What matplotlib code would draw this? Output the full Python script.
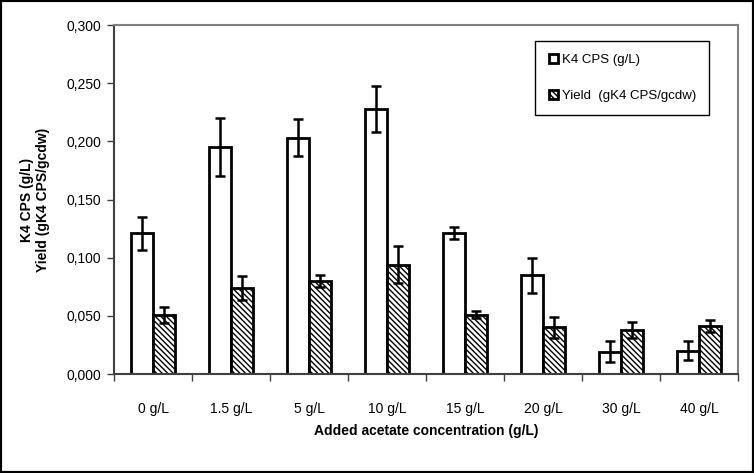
import numpy as np
import matplotlib.pyplot as plt
from matplotlib.patches import Rectangle

plt.rcParams['font.family'] = ['Liberation Sans', 'DejaVu Sans']
plt.rcParams['hatch.linewidth'] = 1.0

# data
categories = ["0 g/L", "1.5 g/L", "5 g/L", "10 g/L", "15 g/L", "20 g/L", "30 g/L", "40 g/L"]
cps = [0.121, 0.195, 0.203, 0.228, 0.121, 0.085, 0.019, 0.020]
cps_err = [0.014, 0.025, 0.016, 0.020, 0.005, 0.015, 0.009, 0.008]
yld = [0.051, 0.074, 0.080, 0.094, 0.051, 0.040, 0.038, 0.041]
yld_err = [0.007, 0.010, 0.005, 0.016, 0.003, 0.009, 0.007, 0.005]

fig = plt.figure(figsize=(7.54, 4.73), dpi=100)
ax = fig.add_axes([0.1512, 0.2093, 0.8276, 0.7378])

x = np.arange(len(categories))
w = 0.28

ax.bar(x - w / 2, cps, w, color="white", edgecolor="black", linewidth=2,
       label="K4 CPS (g/L)", zorder=2)
ax.bar(x + w / 2, yld, w, color="white", edgecolor="black", linewidth=2,
       hatch="\\\\\\\\\\\\", label="Yield  (gK4 CPS/gcdw)", zorder=2)
ax.errorbar(x - w / 2, cps, yerr=cps_err, fmt="none", ecolor="black",
            elinewidth=1.8, capsize=3.5, capthick=1.8, zorder=3)
ax.errorbar(x + w / 2, yld, yerr=yld_err, fmt="none", ecolor="black",
            elinewidth=1.8, capsize=3.5, capthick=1.8, zorder=3)

ax.set_xlim(-0.5, len(categories) - 0.5)
ax.set_ylim(0, 0.3)
ax.set_yticks(np.arange(0, 0.301, 0.05))
ax.set_yticklabels(["{:.3f}".format(v).replace(".", ",") for v in np.arange(0, 0.301, 0.05)])
ax.set_xticks(x)
ax.set_xticklabels(categories)
ax.set_xticks(np.arange(-0.5, len(categories)), minor=True)
ax.tick_params(axis="x", which="major", length=0, pad=20, labelsize=10)
ax.tick_params(axis="x", which="minor", length=5, width=1, color="#404040")
ax.tick_params(axis="y", length=5, width=1, color="#404040", labelsize=10, pad=4)

for s in ["left", "bottom"]:
    ax.spines[s].set_color("#404040")
    ax.spines[s].set_linewidth(1.5)
for s in ["top", "right"]:
    ax.spines[s].set_color("#808080")
    ax.spines[s].set_linewidth(1.5)

ax.set_xlabel("Added acetate concentration (g/L)", fontsize=10, fontweight="bold", labelpad=6)
ax.set_ylabel("K4 CPS (g/L)\nYield (gK4 CPS/gcdw)", fontsize=10, fontweight="bold", labelpad=12)

leg = ax.legend(loc="upper right", bbox_to_anchor=(0.954, 0.955), fontsize=9.5,
                frameon=True, fancybox=False, edgecolor="black", framealpha=1,
                handlelength=0.7, handleheight=0.7, handletextpad=0.3,
                labelspacing=1.8, borderpad=1.0, borderaxespad=0)
leg.get_frame().set_linewidth(1)

fig.patches.append(Rectangle((0, 0), 1, 1, transform=fig.transFigure,
                             fill=False, edgecolor="black", linewidth=3))

fig.savefig("out.png", dpi=100)
